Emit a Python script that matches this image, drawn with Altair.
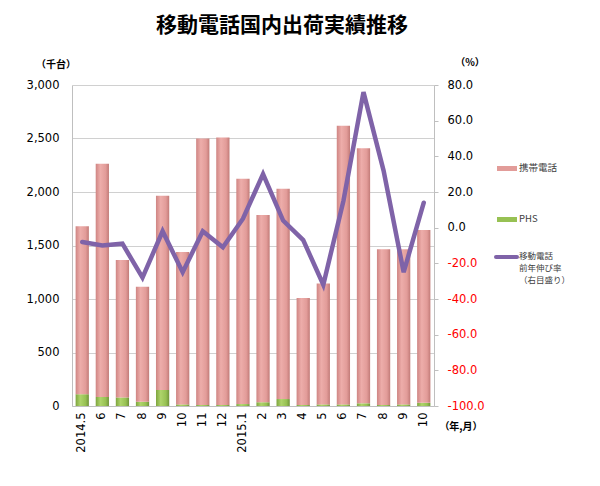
import json
import altair as alt
import pandas as pd

# ---- data ----
periods = ["2014.5", "2014.6", "2014.7", "2014.8", "2014.9", "2014.10", "2014.11", "2014.12",
           "2015.1", "2015.2", "2015.3", "2015.4", "2015.5", "2015.6", "2015.7", "2015.8",
           "2015.9", "2015.10"]
tick_labels = ["2014.5", "6", "7", "8", "9", "10", "11", "12",
               "2015.1", "2", "3", "4", "5", "6", "7", "8", "9", "10"]
keitai = [1570, 2180, 1285, 1075, 1815, 1425, 2490, 2500, 2107, 1750, 1965, 1000, 1130,
          2605, 2385, 1455, 1450, 1615]
phs = [110, 85, 80, 40, 150, 15, 10, 10, 18, 35, 65, 10, 15, 15, 25, 10, 15, 30]
growth = [-8, -10, -9, -28, -2, -25, -2, -11, 5, 30, 4, -7, -32, 15, 76, 32, -25, 14]

left_ticks = [0, 500, 1000, 1500, 2000, 2500, 3000]
right_ticks = [-100, -80, -60, -40, -20, 0, 20, 40, 60, 80]

title_text = "移動電話国内出荷実績推移"
left_unit = "（千台）"
right_unit = "（%）"
x_unit = "（年,月）"
legend_keitai = "携帯電話"
legend_phs = "PHS"
legend_line = ["移動電話", "前年伸び率", "（右目盛り）"]

df = pd.DataFrame({"period": periods, "keitai": keitai, "phs": phs, "growth": growth})

W, H = 362, 321
JP = "Noto Sans CJK JP"
NUM = "DejaVu Sans"

label_expr = f"{json.dumps(tick_labels)}[indexof({json.dumps(periods)}, datum.value)]"

x_enc = alt.X(
    "period:N", sort=periods,
    scale=alt.Scale(paddingInner=0.34, paddingOuter=0.18),
    axis=alt.Axis(title=None, labelAngle=-90, labelExpr=label_expr, labelFont=NUM,
                  labelFontSize=11.5, labelColor="#000000", domainColor="#BFBFBF",
                  ticks=False, labelPadding=6),
)

left_axis = alt.Axis(title=None, values=left_ticks, format=",d", grid=True,
                     gridColor="#D0D0D0", domainColor="#BFBFBF", ticks=False,
                     labelFont=NUM, labelFontSize=11.5, labelColor="#000000",
                     labelPadding=13)
left_scale = alt.Scale(domain=[0, 3000], nice=False)

base = alt.Chart(df).transform_calculate(total="datum.keitai + datum.phs")

pink = alt.Gradient(gradient="linear", x1=0, x2=1, y1=0, y2=0, stops=[
    alt.GradientStop(color="#CF8583", offset=0),
    alt.GradientStop(color="#EDADAA", offset=0.35),
    alt.GradientStop(color="#E29C99", offset=0.75),
    alt.GradientStop(color="#C27B78", offset=1),
])
green = alt.Gradient(gradient="linear", x1=0, x2=1, y1=0, y2=0, stops=[
    alt.GradientStop(color="#7EA43E", offset=0),
    alt.GradientStop(color="#AED46B", offset=0.35),
    alt.GradientStop(color="#97C153", offset=0.75),
    alt.GradientStop(color="#70933A", offset=1),
])

phs_bar = base.mark_bar(color=green).encode(
    x=x_enc,
    y=alt.Y("phs:Q", scale=left_scale, axis=left_axis),
)
keitai_bar = base.mark_bar(color=pink).encode(
    x=x_enc,
    y=alt.Y("total:Q", scale=left_scale, axis=left_axis),
    y2="phs:Q",
)
bars = alt.layer(phs_bar, keitai_bar)

line = base.mark_line(color="#7F63A8", strokeWidth=4.5, strokeCap="round").encode(
    x=x_enc,
    y=alt.Y("growth:Q", scale=alt.Scale(domain=[-100, 80], nice=False),
            axis=alt.Axis(orient="right", title=None, values=right_ticks,
                          labelExpr="replace(format(datum.value, '.1f'), '\u2212', '-')",
                          grid=False, domainColor="#BFBFBF", tickColor="#BFBFBF",
                          tickSize=4, labelFont=NUM, labelFontSize=11.5, labelPadding=9,
                          labelColor=alt.condition("datum.value < 0",
                                                   alt.value("#FF0000"),
                                                   alt.value("#000000")))),
)


def label(text, x, y, size=10, weight="normal", align="center", baseline="middle",
          color="#000000", font=JP):
    return alt.Chart(pd.DataFrame({"t": [text]})).mark_text(
        align=align, baseline=baseline, fontSize=size, fontWeight=weight,
        color=color, font=font).encode(text="t:N", x=alt.value(x), y=alt.value(y))


def swatch(color, x0, x1, y0, y1):
    return alt.Chart(pd.DataFrame({"t": [0]})).mark_rect(color=color).encode(
        x=alt.value(x0), x2=alt.value(x1), y=alt.value(y0), y2=alt.value(y1))


texts = [
    label(title_text, 210, -59, size=21, weight="bold"),
    label(left_unit, -16, -20, size=10, weight="bold"),
    label(right_unit, 398, -22, size=10, weight="bold"),
    label(x_unit, 389, 342, size=10, weight="bold"),
    swatch("#E29C99", 425, 445, 81, 86),
    label(legend_keitai, 447, 83, size=9.5, align="left", color="#404040"),
    swatch("#97C153", 425, 445, 132, 137),
    label(legend_phs, 447, 134, size=9.5, align="left", color="#404040"),
    alt.Chart(pd.DataFrame({"t": [0]})).mark_rule(color="#7F63A8", strokeWidth=4,
                                                  strokeCap="round").encode(
        x=alt.value(424), x2=alt.value(445), y=alt.value(172)),
]
for i, ln in enumerate(legend_line):
    texts.append(label(ln, 447, 171 + 12 * i, size=8.5, align="left", color="#404040"))

chart = alt.layer(bars, line, *texts).resolve_scale(y="independent").properties(
    width=W, height=H,
    autosize=alt.AutoSizeParams(type="none"),
    padding={"left": 64, "top": 77, "right": 158, "bottom": 70},
).configure_view(stroke=None)

chart.save("out.html", embed_options={"renderer": "svg", "actions": False})
